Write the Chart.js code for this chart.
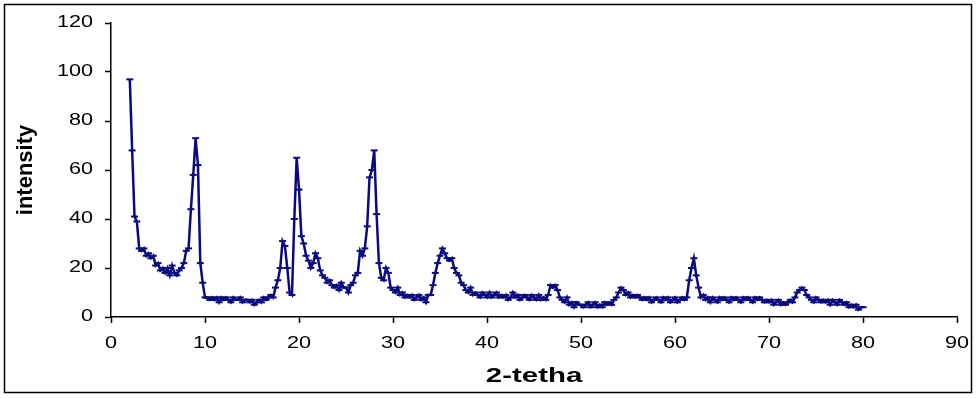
<!DOCTYPE html>
<html>
<head>
<meta charset="utf-8">
<script src="https://cdn.jsdelivr.net/npm/chart.js@4.4.1/dist/chart.umd.min.js"></script>
<style>
    html, body { margin: 0; padding: 0; background: #fff; }
    #wrap { position: relative; width: 977px; height: 398px; }
</style>
</head>
<body>
<div id="wrap"><canvas id="xrd-graph"></canvas></div>
<script>
// Diffraction scan, one value every 0.25 degrees from 2 to 80
const startAngle = 2;
const angleStep = 0.25;
const intensity = [
    97, 68, 41, 39,   // 2
    28, 27, 28, 25,   // 3
    26, 24, 25, 21,   // 4
    22, 19, 20, 18,   // 5
    20, 17, 21, 18,   // 6
    17, 19, 20, 22,   // 7
    27, 28, 44, 58,   // 8
    73, 62, 22, 14,   // 9
    8, 8, 7, 8,       // 10
    7, 8, 6, 8,       // 11
    7, 8, 7, 6,       // 12
    8, 7, 7, 8,       // 13
    6, 7, 7, 6,       // 14
    7, 5, 6, 7,       // 15
    6, 8, 7, 8,       // 16
    9, 8, 12, 15,     // 17
    20, 31, 29, 20,   // 18
    10, 9, 40, 65,    // 19
    52, 33, 30, 25,   // 20
    23, 20, 22, 26,   // 21
    24, 19, 17, 16,   // 22
    14, 15, 13, 12,   // 23
    13, 11, 14, 12,   // 24
    12, 10, 13, 14,   // 25
    17, 18, 27, 25,   // 26
    28, 37, 57, 60,   // 27
    68, 42, 22, 16,   // 28
    15, 20, 18, 12,   // 29
    11, 10, 12, 9,    // 30
    10, 8, 9, 8,      // 31
    9, 7, 8, 9,       // 32
    7, 8, 6, 9,       // 33
    9, 13, 18, 22,    // 34
    25, 28, 26, 24,   // 35
    23, 24, 20, 18,   // 36
    17, 14, 13, 11,   // 37
    10, 12, 9, 10,    // 38
    9, 8, 10, 9,      // 39
    8, 10, 8, 9,      // 40
    10, 8, 9, 8,      // 41
    9, 7, 8, 10,      // 42
    8, 9, 7, 8,       // 43
    9, 8, 7, 9,       // 44
    8, 7, 9, 7,       // 45
    8, 7, 9, 13,      // 46
    12, 13, 11, 8,    // 47
    7, 6, 8, 5,       // 48
    6, 4, 6, 5,       // 49
    5, 4, 5, 6,       // 50
    4, 5, 6, 4,       // 51
    5, 4, 6, 5,       // 52
    6, 5, 7, 8,       // 53
    10, 12, 11, 9,    // 54
    10, 8, 9, 8,      // 55
    9, 8, 7, 8,       // 56
    7, 8, 6, 7,       // 57
    8, 7, 6, 8,       // 58
    7, 8, 6, 7,       // 59
    8, 6, 7, 8,       // 60
    7, 8, 15, 20,     // 61
    24, 17, 12, 8,    // 62
    9, 7, 8, 6,       // 63
    8, 7, 6, 8,       // 64
    7, 8, 7, 6,       // 65
    8, 7, 8, 7,       // 66
    6, 8, 7, 8,       // 67
    7, 6, 8, 7,       // 68
    8, 7, 6, 7,       // 69
    6, 7, 5, 6,       // 70
    7, 5, 6, 5,       // 71
    6, 7, 6, 8,       // 72
    10, 11, 12, 11,   // 73
    9, 8, 7, 6,       // 74
    8, 7, 6, 7,       // 75
    6, 7, 5, 7,       // 76
    6, 5, 7, 6,       // 77
    5, 6, 4, 5,       // 78
    4, 5, 3, 4,       // 79
    4                 // 80
];

const xTitle = "2-tetha";
const yTitle = "intensity";

const lineColor = "#0a0a80";
const fontFamily = "'Liberation Sans', Arial, sans-serif";

// pair every reading with its angle on the scan grid
const points = intensity.map((v, i) => ({ x: startAngle + i * angleStep, y: v }));

// The texts in the picture are drawn wide, so horizontal text gets stretched
// sideways around its anchor point while textStretch is set.
function wrapFillText(c) {
    if (c._wrapped) return;
    const orig = c.fillText;
    c.fillText = function (text, x, y, maxWidth) {
        const k = this.textStretch || 1;
        if (k === 1) return orig.call(this, text, x, y, maxWidth);
        this.save();
        this.translate(x, y);
        this.scale(k, 1);
        orig.call(this, text, 0, 0);
        this.restore();
    };
    c._wrapped = true;
}

const decorPlugin = {
    id: "decor",
    beforeDraw(chart) {
        wrapFillText(chart.ctx);
        chart.ctx.textStretch = 1.35;
    },
    afterDraw(chart) {
        const c = chart.ctx;
        const area = chart.chartArea;
        c.save();
        // outer frame
        c.strokeStyle = "#000";
        c.lineWidth = 1.5;
        c.strokeRect(4.5, 4.5, 967, 388);

        c.fillStyle = "#000";
        c.textAlign = "center";
        c.textBaseline = "middle";

        // x title
        c.textStretch = 1.4;
        c.font = "bold 21px " + fontFamily;
        c.fillText(xTitle, (area.left + area.right) / 2, 376);

        // y title, rotated
        c.textStretch = 1;
        c.font = "bold 22px " + fontFamily;
        c.translate(26, (area.top + area.bottom) / 2);
        c.rotate(-Math.PI / 2);
        c.fillText(yTitle, 0, 0);
        c.restore();
        c.textStretch = 1;
    },
};

function axisConfig(min, max, step, pad, fitSize) {
    return {
        type: "linear",
        min,
        max,
        ticks: {
            stepSize: step,
            color: "#000",
            font: { family: fontFamily, size: 16 },
            padding: pad,
            maxRotation: 0,
        },
        grid: {
            display: true,
            drawOnChartArea: false,
            drawTicks: true,
            tickLength: 6,
            tickColor: "#000",
            tickWidth: 1.5,
        },
        border: { display: true, color: "#000", width: 1.5 },
        title: { display: false },
        afterFit: fitSize,
    };
}

const ctx = document.getElementById("xrd-graph").getContext("2d");
new Chart(ctx, {
    type: "line",
    data: {
        datasets: [
            {
                data: points,
                borderColor: lineColor,
                backgroundColor: lineColor,
                borderWidth: 2.5,
                pointStyle: "line",
                pointRadius: 3.5,
                pointBorderWidth: 2,
                tension: 0,
                fill: false,
            },
        ],
    },
    options: {
        responsive: true,
        maintainAspectRatio: false,
        animation: false,
        layout: { padding: { left: 0, right: 12, top: 23, bottom: 0 } },
        plugins: {
            legend: { display: false },
            tooltip: { enabled: false },
        },
        scales: {
            x: axisConfig(0, 90, 10, 11, (s) => { s.height = 81; }),
            y: axisConfig(0, 120, 20, 12, (s) => { s.width = 111; }),
        },
    },
    plugins: [decorPlugin],
});
</script>
</body>
</html>
